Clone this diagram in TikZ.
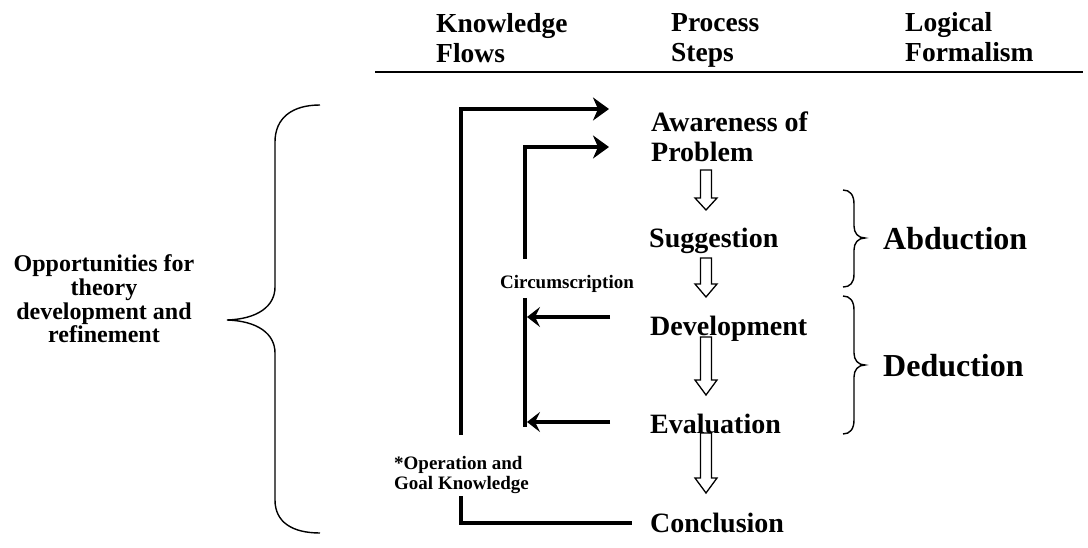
\documentclass[tikz,border=0pt]{standalone}
\usepackage{fontspec}
\setmainfont{Liberation Serif}
\usetikzlibrary{arrows.meta}
\newcommand\hollowdown[3]{%
  \draw[hollow] (700.5,#1) -- (711.5,#1) -- (711.5,#2) -- (717,#2) -- (706,#3)
     -- (695,#2) -- (700.5,#2) -- cycle;}
\begin{document}
\begin{tikzpicture}[x=1pt,y=-1pt,
  txt/.style={inner sep=0pt, anchor=base west},
  head/.style={txt, font=\bfseries\fontsize{27.5}{30}\selectfont},
  stepbox/.style={txt, font=\bfseries\fontsize{28}{30}\selectfont},
  small/.style={txt, font=\bfseries\fontsize{19}{20}\selectfont},
  logic/.style={txt, font=\bfseries\fontsize{32}{34}\selectfont},
  flow/.style={line width=3.6pt},
  bigtip/.style={-{Stealth[length=16pt,width=23pt,inset=5pt]}},
  lefttip/.style={-{Stealth[length=13pt,width=20pt,inset=5pt]}},
  hollow/.style={line width=1.3pt, line join=miter},
  bracket/.style={line width=1.4pt}]
\useasboundingbox (0,0) rectangle (1088,548);

% headers
\node[head] (hkf) at (436,33) {\begin{tabular}[t]{@{}l@{}}Knowledge\\Flows\end{tabular}};
\node[head] (hps) at (671,32) {\begin{tabular}[t]{@{}l@{}}Process\\Steps\end{tabular}};
\node[head] (hlf) at (905,32) {\begin{tabular}[t]{@{}l@{}}Logical\\Formalism\end{tabular}};
\coordinate (ruleL) at (375,72);
\coordinate (ruleR) at (1083,72);
\draw[line width=1.8pt] (ruleL) -- (ruleR);

% process steps
\node[stepbox] (aware) at (651,132) {\begin{tabular}[t]{@{}l@{}}Awareness of\\Problem\end{tabular}};
\node[stepbox] (sugg) at (649,248) {Suggestion};
\node[stepbox] (dev) at (650,335) {Development};
\node[stepbox] (eval) at (650,433) {Evaluation};
\node[stepbox] (conc) at (650,532) {Conclusion};

% hollow arrows between steps
\hollowdown{170}{198}{210}
\hollowdown{258}{284}{297}
\hollowdown{337}{380}{395}
\hollowdown{433}{478}{493}

% labels
\node[small] (circ) at (500,289) {Circumscription};
\node[small] (opk) at (394,469) {\begin{tabular}[t]{@{}l@{}}*Operation and\\Goal Knowledge\end{tabular}};
\node[inner sep=0pt, anchor=base, font=\bfseries\fontsize{24}{23}\selectfont] (opp) at (104,272)
  {\begin{tabular}[t]{@{}c@{}}Opportunities for\\theory\\development and\\refinement\end{tabular}};
\node[logic] (abd) at (883,250) {Abduction};
\node[logic] (ded) at (883,377) {Deduction};

% outer knowledge flow
\coordinate (oUp) at (461,435);
\coordinate (oLow) at (461,496);
\coordinate (oTL) at (461,109);
\coordinate (oBL) at (461,523);
\coordinate (inA) at (609,109);
\coordinate (conE) at (632,523);
\draw[flow, bigtip] (oUp) -- (oTL) -- (inA);
\draw[flow] (oLow) -- (oBL) -- (conE);

% inner circumscription flow
\coordinate (iUp) at (525,259);
\coordinate (iLow) at (525,298);
\coordinate (iTL) at (525,147);
\coordinate (iBot) at (525,427);
\coordinate (inB) at (609,147);
\draw[flow, bigtip] (iUp) -- (iTL) -- (inB);
\draw[flow] (iLow) -- (iBot);
\coordinate (devW) at (610,317);
\coordinate (evalW) at (610,422);
\draw[flow, lefttip] (devW) -- (527,317);
\draw[flow, lefttip] (evalW) -- (527,422);

% big left brace
\draw[bracket] (320,105) .. controls (292,105) and (275,118) .. (275,142)
  -- (275,287) .. controls (275,306) and (258,319) .. (227,320)
  .. controls (258,321) and (275,334) .. (275,353)
  -- (275,500) .. controls (275,522) and (292,533) .. (320,533);

% abduction brace
\draw[bracket] (843,190) .. controls (850,190) and (854,195) .. (854,204)
  -- (854,226) .. controls (854,233) and (858,238) .. (865,238)
  .. controls (858,238) and (854,243) .. (854,250)
  -- (854,274) .. controls (854,283) and (850,287) .. (843,287);

% deduction brace
\draw[bracket] (843,296) .. controls (850,296) and (854,301) .. (854,310)
  -- (854,353) .. controls (854,360) and (858,365) .. (865,365)
  .. controls (858,365) and (854,370) .. (854,377)
  -- (854,420) .. controls (854,429) and (850,434) .. (843,434);
\end{tikzpicture}
\end{document}
